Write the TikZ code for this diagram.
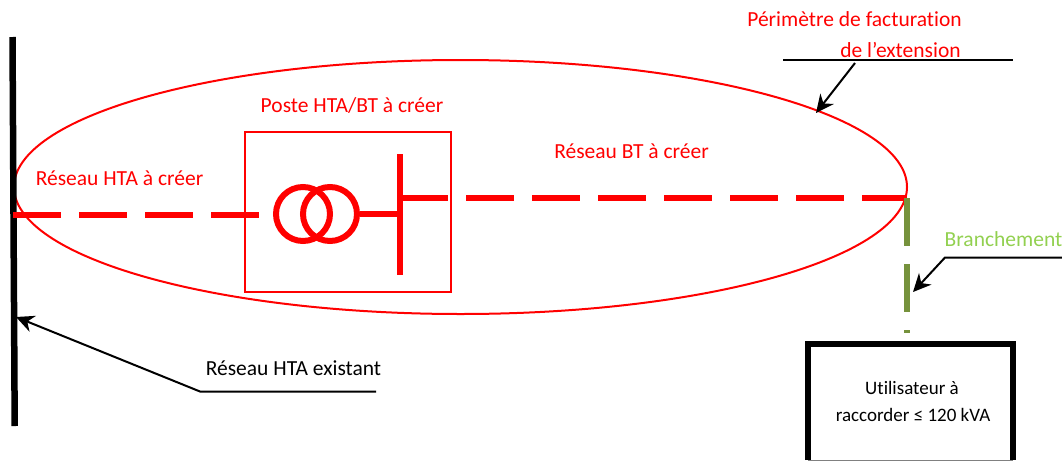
\documentclass[tikz,border=0pt]{standalone}
\usepackage{fontspec}
\setmainfont{Carlito}[Ligatures=NoCommon]
\usetikzlibrary{shapes.geometric,arrows.meta}
\definecolor{olivebr}{HTML}{76923C}
\definecolor{lightbr}{HTML}{92D050}
\tikzset{
  redtxt/.style={text=red,inner sep=0pt,font=\fontsize{21.5}{24}\selectfont},
  blacktxt/.style={text=black,inner sep=0pt,font=\fontsize{21.5}{24}\selectfont},
  smalltxt/.style={text=black,inner sep=0pt,font=\fontsize{19}{22}\selectfont},
  greentxt/.style={text=lightbr,inner sep=0pt,font=\fontsize{21.5}{24}\selectfont},
  redthick/.style={draw=red,line width=6.5pt},
  reddash/.style={draw=red,line width=6.5pt,dash pattern=on 48pt off 18pt},
  greendash/.style={draw=olivebr,line width=6.5pt,dash pattern=on 48pt off 18pt},
  leader/.style={draw=black,line width=2pt,-{Stealth[length=18pt,width=17pt]}},
  plainleader/.style={draw=black,line width=2pt},
}
\begin{document}
\begin{tikzpicture}[x=1pt,y=-1pt]
\useasboundingbox (0,0) rectangle (1062,461);

% frames
\node[ellipse,draw=red,line width=2pt,inner sep=0pt,minimum width=893pt,minimum height=254pt] (perim) at (460.5,187) {};
\node[rectangle,draw=red,line width=2pt,inner sep=0pt,minimum width=206pt,minimum height=160pt] (poste) at (348,212) {};

% existing HTA line
\coordinate (htatop) at (12.5,37);
\coordinate (htabot) at (14.7,426);
\draw[black,line width=6.5pt] (htatop) -- (htabot);

% HTA network
\coordinate (htastart) at (13,215);
\coordinate (htaend) at (259,215);
\draw[reddash] (htastart) -- (htaend);

% transformer
\node[circle,draw=red,line width=6pt,inner sep=0pt,minimum size=54pt] (t1) at (303,214) {};
\node[circle,draw=red,line width=6pt,inner sep=0pt,minimum size=54pt] (t2) at (330,214) {};

% busbar
\coordinate (bustop) at (400,154);
\coordinate (busbot) at (400,275);
\coordinate (busout) at (400,198);
\coordinate (btend) at (907,198);
\draw[redthick] (bustop) -- (busbot);
\draw[redthick] (t2.east) -- (t2.east -| bustop);
\draw[reddash] (busout) -- (btend);

% connection
\coordinate (brstart) at (907,198);
\coordinate (brend) at (907,333);
\draw[greendash] (brstart) -- (brend);

% user
\node[inner sep=0pt,minimum width=205pt,minimum height=116pt] (user) at (910.5,402) {};
\draw[black,line width=5.5pt] (user.south west) -- (user.north west) -- (user.north east) -- (user.south east);
\draw[gray,line width=1pt] (user.south west) -- (user.south east);
\node[smalltxt] (u1) at (912,388) {Utilisateur à};
\node[smalltxt] (u2) at (913,415) {raccorder ≤ 120 kVA};

% leaders
\coordinate (pl) at (783,60);
\coordinate (pr) at (1013,60);
\coordinate (pa) at (855,63);
\coordinate (pb) at (816,113);
\draw[plainleader] (pl) -- (pr);
\draw[leader] (pa) -- (pb);

\coordinate (ba) at (1062,257.5);
\coordinate (bb) at (945,257.5);
\coordinate (bc) at (913,292);
\draw[leader] (ba) -- (bb) -- (bc);

\coordinate (ea) at (376,391.5);
\coordinate (eb) at (200,391.5);
\coordinate (ec) at (16,317);
\draw[leader] (ea) -- (eb) -- (ec);

% labels
\node[redtxt] (l1) at (854.5,19) {Périmètre de facturation};
\node[redtxt] (l2) at (900.5,50) {de l’extension};
\node[redtxt] (l3) at (352,105) {Poste HTA/BT à créer};
\node[redtxt] (l4) at (631.5,151) {Réseau BT à créer};
\node[redtxt] (l5) at (119.5,178) {Réseau HTA à créer};
\node[blacktxt] (l6) at (293.5,368) {Réseau HTA existant};
\node[greentxt] (l7) at (1003.5,239) {Branchement};
\end{tikzpicture}
\end{document}
